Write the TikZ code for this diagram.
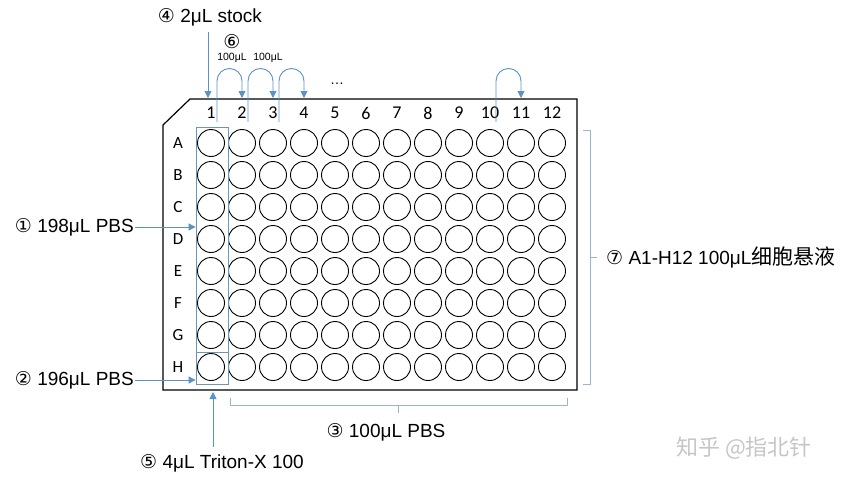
\documentclass[tikz,border=0pt]{standalone}
\usepackage{fontspec}
\setmainfont{Liberation Sans}
\newfontfamily\calfont{Carlito}
\newfontfamily\circfont{DejaVu Sans}
\newfontfamily\cjkfont{Noto Sans CJK SC}
\usetikzlibrary{arrows.meta,calc,positioning}

\definecolor{lineblue}{RGB}{91,146,200}
\definecolor{bracegray}{RGB}{150,182,204}
\definecolor{colbox}{RGB}{112,150,172}
\newcommand{\cnum}[1]{{\circfont\fontsize{19}{19}\selectfont #1}}

\begin{document}
\begin{tikzpicture}[x=1pt,y=-1pt,
  well/.style={circle,draw,line width=0.9pt,minimum size=27pt,inner sep=0pt},
  collabel/.style={font=\calfont\fontsize{18}{18}\selectfont},
  rowlabel/.style={font=\calfont\fontsize{17}{17}\selectfont},
  callout/.style={font=\fontsize{19}{21}\selectfont,inner sep=1pt},
  amount/.style={font=\fontsize{10.5}{11}\selectfont,inner sep=0pt},
  flow/.style={draw=lineblue,line width=0.9pt,-{Triangle[length=7pt,width=7pt]}},
  bracket/.style={draw=bracegray,line width=0.9pt,line join=round}]

  \useasboundingbox (0,0) rectangle (846,482);

  % plate with cut corner
  \draw[line width=1.2pt] (163,125) -- (190,99) -- (577,99) -- (577,390) -- (163,390) -- cycle;

  % wells and labels
  \foreach \r [count=\i] in {A,...,H} {
    \node[rowlabel] (row\r) at (178,{143+32*(\i-1)}) {\r};
    \foreach \c in {1,...,12}
      \node[well] (w\r\c) at ({211+31*(\c-1)},{143+32*(\i-1)}) {};
  }
  \foreach \c in {1,...,12}
    \node[collabel] (col\c) at ({211+31*(\c-1)},113) {\c};

  % column 1 frame
  \node[draw=colbox,line width=0.8pt,minimum width=32pt,minimum height=257pt,inner sep=0pt] (colbox) at (212,255.5) {};
  \draw[colbox,line width=0.8pt] (colbox.west |- 0,352) -- (colbox.east |- 0,352);

  % serial dilution
  \foreach \a/\b in {1/2,2/3,3/4,10/11}
    \draw[flow] (col\a.center) ++(6,9) -- ++(0,-41) arc[start angle=180,end angle=0,radius=12.5pt] -- ++(0,17);
  \node[font=\fontsize{14}{14}\selectfont] (dots) at (337,84) {\ldots};
  \node[inner sep=0pt] (step6) at (232,42) {\cnum{⑥}};
  \node[amount] (amt1) at (232,58) {100μL};
  \node[amount] (amt2) at (268,58) {100μL};

  % stock
  \node[callout] (stock) at (210,17) {\cnum{④} 2μL stock};
  \coordinate (stockin) at (208,98);
  \draw[flow] (stock.south -| stockin) ++(0,5) -- (stockin);

  % PBS in column 1
  \node[callout,anchor=east] (pbs198) at (135,227) {\cnum{①} 198μL PBS};
  \node[callout,anchor=east] (pbs196) at (135,380) {\cnum{②} 196μL PBS};
  \draw[flow] (pbs198.east) -- (colbox.west |- pbs198.east);
  \draw[flow] (pbs196.east) -- (colbox.west |- pbs196.east);

  % Triton
  \node[callout] (triton) at (222,463) {\cnum{⑤} 4μL Triton-X 100};
  \coordinate (tritonin) at (213,392);
  \draw[flow] (triton.north -| tritonin) ++(0,-6) -- (tritonin);

  % columns 2-12
  \draw[bracket] (230,398) -- (230,405) -- (567,405) -- (567,398);
  \draw[bracket] (398,405) -- (398,413);
  \node[callout] (pbs100) at (386,432) {\cnum{③} 100μL PBS};

  % all wells
  \draw[bracket] (583,130) -- (590,130) -- (590,384) -- (583,384);
  \draw[bracket] (590,257) -- (597,257);
  \node[callout,anchor=west] (cells) at (605,257) {\cnum{⑦} A1-H12 100μL{\cjkfont\fontsize{21}{21}\selectfont 细胞悬液}};

  \node[text=gray!45,font=\cjkfont\fontsize{22}{22}\selectfont] (mark) at (744,448) {知乎 @指北针};
\end{tikzpicture}
\end{document}
